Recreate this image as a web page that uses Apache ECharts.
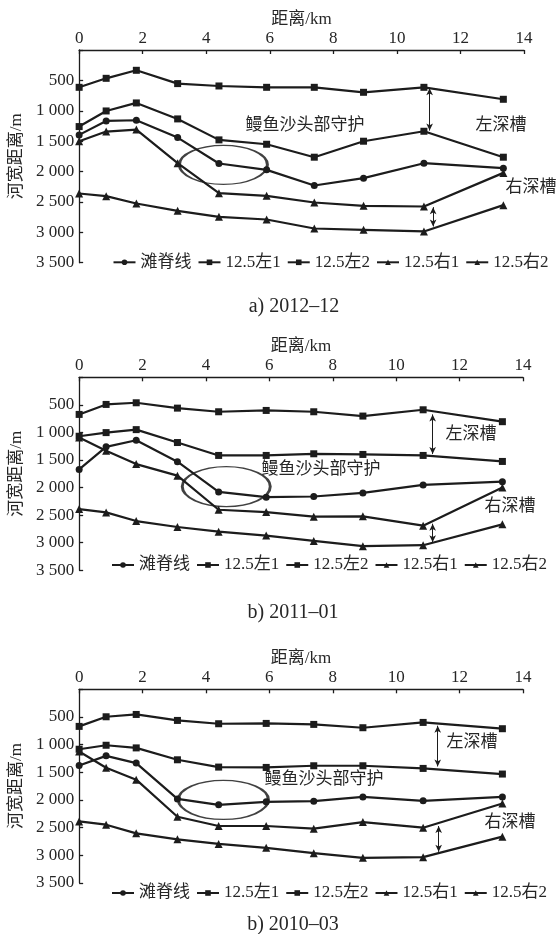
<!DOCTYPE html>
<html><head><meta charset="utf-8">
<script src="https://cdn.jsdelivr.net/npm/echarts@6/dist/echarts.min.js"></script>
<style>html,body{margin:0;padding:0;background:#fff}#c{width:559px;height:934px}</style>
</head><body><div id="c"></div>
<script>
// ---- data ----
const distKm = [0, 0.85, 1.8, 3.1, 4.4, 5.9, 7.4, 8.95, 10.85, 13.35];
const seriesNames = ['滩脊线', '12.5左1', '12.5左2', '12.5右1', '12.5右2'];
const seriesSymbols = ['circle', 'rect', 'rect', 'triangle', 'triangle'];
const panelTitles = ['a) 2012–12', 'b) 2011–01', 'b) 2010–03'];
const xTickMax = 14, xTickStep = 2;
const yTickMax = 3500, yTickStep = 500;

// a) 2012-12
const a_ridge  = [1397, 1167, 1156, 1441, 1868, 1972, 2230, 2109, 1863, 1945];
const a_left1  = [614, 466, 334, 553, 592, 614, 614, 696, 614, 811];
const a_left2  = [1260, 1003, 871, 1134, 1479, 1551, 1764, 1501, 1337, 1764];
const a_right1 = [1501, 1342, 1309, 1863, 2356, 2400, 2509, 2564, 2575, 2022];
const a_right2 = [2361, 2405, 2526, 2646, 2745, 2789, 2937, 2959, 2986, 2553];
// b) 2011-01
const b_ridge  = [1670, 1261, 1141, 1531, 2078, 2174, 2162, 2096, 1952, 1892];
const b_left1  = [673, 492, 462, 559, 625, 601, 625, 703, 589, 805];
const b_left2  = [1069, 1003, 949, 1183, 1417, 1417, 1387, 1399, 1417, 1526];
const b_right1 = [1093, 1333, 1574, 1784, 2402, 2444, 2528, 2522, 2691, 2000];
const b_right2 = [2390, 2450, 2607, 2715, 2799, 2871, 2967, 3063, 3045, 2667];
// b) 2010-03
const c_ridge  = [1377, 1204, 1335, 1982, 2090, 2036, 2024, 1946, 2018, 1946];
const c_left1  = [671, 497, 455, 563, 623, 617, 635, 695, 599, 713];
const c_left2  = [1084, 1012, 1060, 1275, 1407, 1413, 1383, 1383, 1431, 1533];
const c_right1 = [1126, 1419, 1635, 2305, 2473, 2473, 2521, 2401, 2503, 2066];
const c_right2 = [2389, 2449, 2605, 2713, 2796, 2868, 2964, 3048, 3036, 2665];

// annotations (data coordinates)
const ellipseCenters = [[4.54, 1890], [4.64, 1982], [4.55, 2000]];
const leftArrows  = [[11.03, 630, 1326], [11.15, 673, 1393], [11.31, 659, 1395]];
const rightArrows = [[11.14, 2586, 2904], [11.15, 2655, 2991], [11.34, 2473, 2940]];

const panels = [
  [a_ridge, a_left1, a_left2, a_right1, a_right2],
  [b_ridge, b_left1, b_left2, b_right1, b_right2],
  [c_ridge, c_left1, c_left2, c_right1, c_right2]
];

// ---- layout ----
const grids = [
  {left: 76, top: 50, width: 448, height: 212.7},
  {left: 75, top: 377.3, width: 448, height: 193},
  {left: 75, top: 689.3, width: 448, height: 193.5}
];
const legendPos = [{left: 112.5, top: 253.8}, {left: 111, top: 556.5}, {left: 111, top: 884.5}];
const ellipseSizes = [[88, 39], [88, 40], [90, 39]];
const subtitlePos = [[294, 307], [293, 613], [293, 925]];
const noteTexts = [
  [['鳗鱼沙头部守护', 305, 126], ['左深槽', 501, 126], ['右深槽', 531, 188]],
  [['鳗鱼沙头部守护', 321, 470], ['左深槽', 471, 435], ['右深槽', 510, 507]],
  [['鳗鱼沙头部守护', 324, 780], ['左深槽', 472, 743], ['右深槽', 510, 823]]
];

const FONT = '"Liberation Serif", "Noto Sans CJK SC", serif';
const INK = '#1c1c1c';
const TXT = '#262626';

function fmtY(v) {
  if (v === 0) return '';
  if (v >= 1000) {
    const t = Math.floor(v / 1000), r = v % 1000;
    return t + ' ' + String(r).padStart(3, '0');
  }
  return String(v);
}

const xAxes = [], yAxes = [], series = [], legends = [], graphics = [];
grids.forEach((g, i) => {
  xAxes.push({
    type: 'value', gridIndex: i, position: 'top', min: 0, max: xTickMax, interval: xTickStep,
    name: '距离/km', nameLocation: 'middle', nameGap: 22,
    nameTextStyle: {fontFamily: FONT, fontSize: 17, color: TXT},
    axisLine: {onZero: false, lineStyle: {color: INK, width: 1.3}},
    axisTick: {inside: true, length: 4, lineStyle: {color: INK, width: 1.3}},
    axisLabel: {margin: 3, fontFamily: FONT, fontSize: 17, color: TXT},
    splitLine: {show: false}
  });
  yAxes.push({
    type: 'value', gridIndex: i, inverse: true, min: 0, max: yTickMax, interval: yTickStep,
    name: '河宽距离/m', nameLocation: 'middle', nameGap: 49, nameRotate: 90,
    nameTextStyle: {fontFamily: FONT, fontSize: 17, color: TXT},
    axisLine: {show: true, onZero: false, lineStyle: {color: INK, width: 1.3}},
    axisTick: {show: true, inside: true, length: 4, lineStyle: {color: INK, width: 1.3}},
    axisLabel: {margin: 5, fontFamily: FONT, fontSize: 17, color: TXT, formatter: fmtY},
    splitLine: {show: false}
  });
  panels[i].forEach((vals, k) => {
    series.push({
      type: 'line', name: seriesNames[k], xAxisIndex: i, yAxisIndex: i,
      data: distKm.map((x, j) => [x, vals[j]]),
      symbol: seriesSymbols[k], symbolSize: seriesSymbols[k] === 'triangle' ? 8 : 7,
      showSymbol: true,
      lineStyle: {color: INK, width: 2.2},
      itemStyle: {color: INK},
      emphasis: {disabled: true},
      animation: false, z: 3
    });
  });
  // ellipse + arrows annotation
  series.push({
    type: 'scatter', name: 'note' + i, xAxisIndex: i, yAxisIndex: i,
    data: [ellipseCenters[i]], symbol: 'circle', symbolSize: ellipseSizes[i],
    itemStyle: {color: 'rgba(0,0,0,0)', borderColor: '#111', borderWidth: 2},
    clip: false, silent: true, animation: false, z: 2,
    markLine: {
      silent: true, animation: false,
      symbol: ['arrow', 'arrow'], symbolSize: [5, 7],
      label: {show: false},
      lineStyle: {color: INK, width: 1, type: 'solid'},
      data: [
        [{coord: [leftArrows[i][0], leftArrows[i][1]]}, {coord: [leftArrows[i][0], leftArrows[i][2]]}],
        [{coord: [rightArrows[i][0], rightArrows[i][1]]}, {coord: [rightArrows[i][0], rightArrows[i][2]]}]
      ]
    }
  });
  legends.push({
    show: true, orient: 'horizontal', left: legendPos[i].left, top: legendPos[i].top,
    width: 470, padding: 0, itemGap: 6, itemWidth: 22, itemHeight: 7,
    data: seriesNames.map(n => ({name: n})),
    textStyle: {fontFamily: FONT, fontSize: 17, color: TXT},
    selectedMode: false
  });
  graphics.push({
    type: 'text', x: subtitlePos[i][0], y: subtitlePos[i][1],
    style: {text: panelTitles[i], font: '20px ' + FONT, fill: TXT, textAlign: 'center', textVerticalAlign: 'middle'}
  });
  noteTexts[i].forEach(t => {
    graphics.push({
      type: 'text', x: t[1], y: t[2],
      style: {text: t[0], font: '17px ' + FONT, fill: TXT, textAlign: 'center', textVerticalAlign: 'middle'}
    });
  });
});

const chart = echarts.init(document.getElementById('c'), null, {renderer: 'canvas'});
chart.setOption({
  animation: false,
  backgroundColor: '#fff',
  grid: grids,
  xAxis: xAxes,
  yAxis: yAxes,
  legend: legends,
  series: series,
  graphic: graphics
});
</script></body></html>
